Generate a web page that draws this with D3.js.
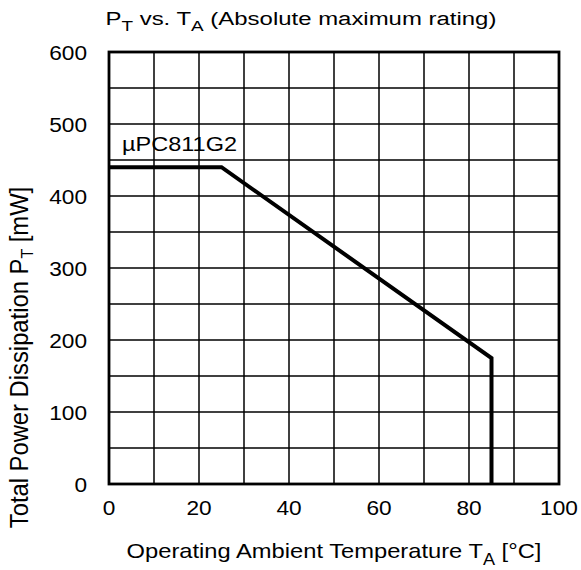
<!DOCTYPE html>
<html>
<head>
<meta charset="utf-8">
<script src="https://cdn.jsdelivr.net/npm/d3@7"></script>
<style>
  body { margin: 0; background: #fff; }
  svg { font-family: "Liberation Sans", Arial, sans-serif; }
</style>
</head>
<body>
<svg width="581" height="570"></svg>
<script>
// derating curve for uPC811G2
const tempA = [0, 25, 85, 85];
const powerT = [440, 440, 175, 0];
const xTicks = [0, 20, 40, 60, 80, 100];
const yTicks = [0, 100, 200, 300, 400, 500, 600];
const seriesName = "µPC811G2";

const svg = d3.select("svg");
const plotL = 109, plotR = 559, plotT = 52, plotB = 484;

const x = d3.scaleLinear().domain([0, 100]).range([plotL, plotR]);
const y = d3.scaleLinear().domain([0, 600]).range([plotB, plotT]);

// text placed at (tx,ty) and stretched sideways a bit, the source font is wide
function label(tx, ty, sx, size, anchor) {
  return svg.append("g")
      .attr("transform", "translate(" + [tx, ty] + ")scale(" + sx + ",1)")
    .append("text")
      .attr("text-anchor", anchor || "start")
      .style("font-size", size + "px");
}

// grid: every 10 degC, every 50 mW
const grid = svg.append("g").attr("stroke", "#000").attr("stroke-width", 1.5);
grid.selectAll("line.v")
    .data(d3.range(10, 100, 10)).enter()
  .append("line")
    .attr("x1", d => x(d)).attr("x2", d => x(d))
    .attr("y1", plotT).attr("y2", plotB);
grid.selectAll("line.h")
    .data(d3.range(50, 600, 50)).enter()
  .append("line")
    .attr("x1", plotL).attr("x2", plotR)
    .attr("y1", d => y(d)).attr("y2", d => y(d));

svg.append("rect")
    .attr("x", plotL).attr("y", plotT)
    .attr("width", plotR - plotL).attr("height", plotB - plotT)
    .attr("fill", "none").attr("stroke", "#000").attr("stroke-width", 2.8);

// tick labels
xTicks.forEach(d => label(x(d), 515, 1.08, 21, "middle").text(d));
yTicks.forEach(d => label(87, y(d) + 7.5, 1.08, 21, "end").text(d));

// the curve
const line = d3.line()
    .x((d, i) => x(tempA[i]))
    .y(d => y(d));
svg.append("path")
    .attr("d", line(powerT))
    .attr("fill", "none")
    .attr("stroke", "#000")
    .attr("stroke-width", 4)
    .attr("stroke-linejoin", "miter");

label(122, 151, 1.12, 21).text(seriesName);

// title
const title = label(105.5, 25, 1.26, 19);
title.append("tspan").text("P");
title.append("tspan").attr("dy", 5.5).style("font-size", "15px").text("T");
title.append("tspan").attr("dy", -5.5).text(" vs. T");
title.append("tspan").attr("dy", 5.5).style("font-size", "15px").text("A");
title.append("tspan").attr("dy", -5.5).text(" (Absolute maximum rating)");

// x axis label
const xl = label(334, 558, 1.13, 21, "middle");
xl.append("tspan").text("Operating Ambient Temperature T");
xl.append("tspan").attr("dy", 7).style("font-size", "16px").text("A");
xl.append("tspan").attr("dy", -7).text(" [°C]");

// y axis label
const yl = svg.append("g")
    .attr("transform", "translate(28,357.5)rotate(-90)scale(1,1.07)")
  .append("text")
    .attr("text-anchor", "middle")
    .style("font-size", "23.8px");
yl.append("tspan").text("Total Power Dissipation P");
yl.append("tspan").attr("dy", 5).style("font-size", "16px").text("T");
yl.append("tspan").attr("dy", -5).text(" [mW]");
</script>
</body>
</html>
